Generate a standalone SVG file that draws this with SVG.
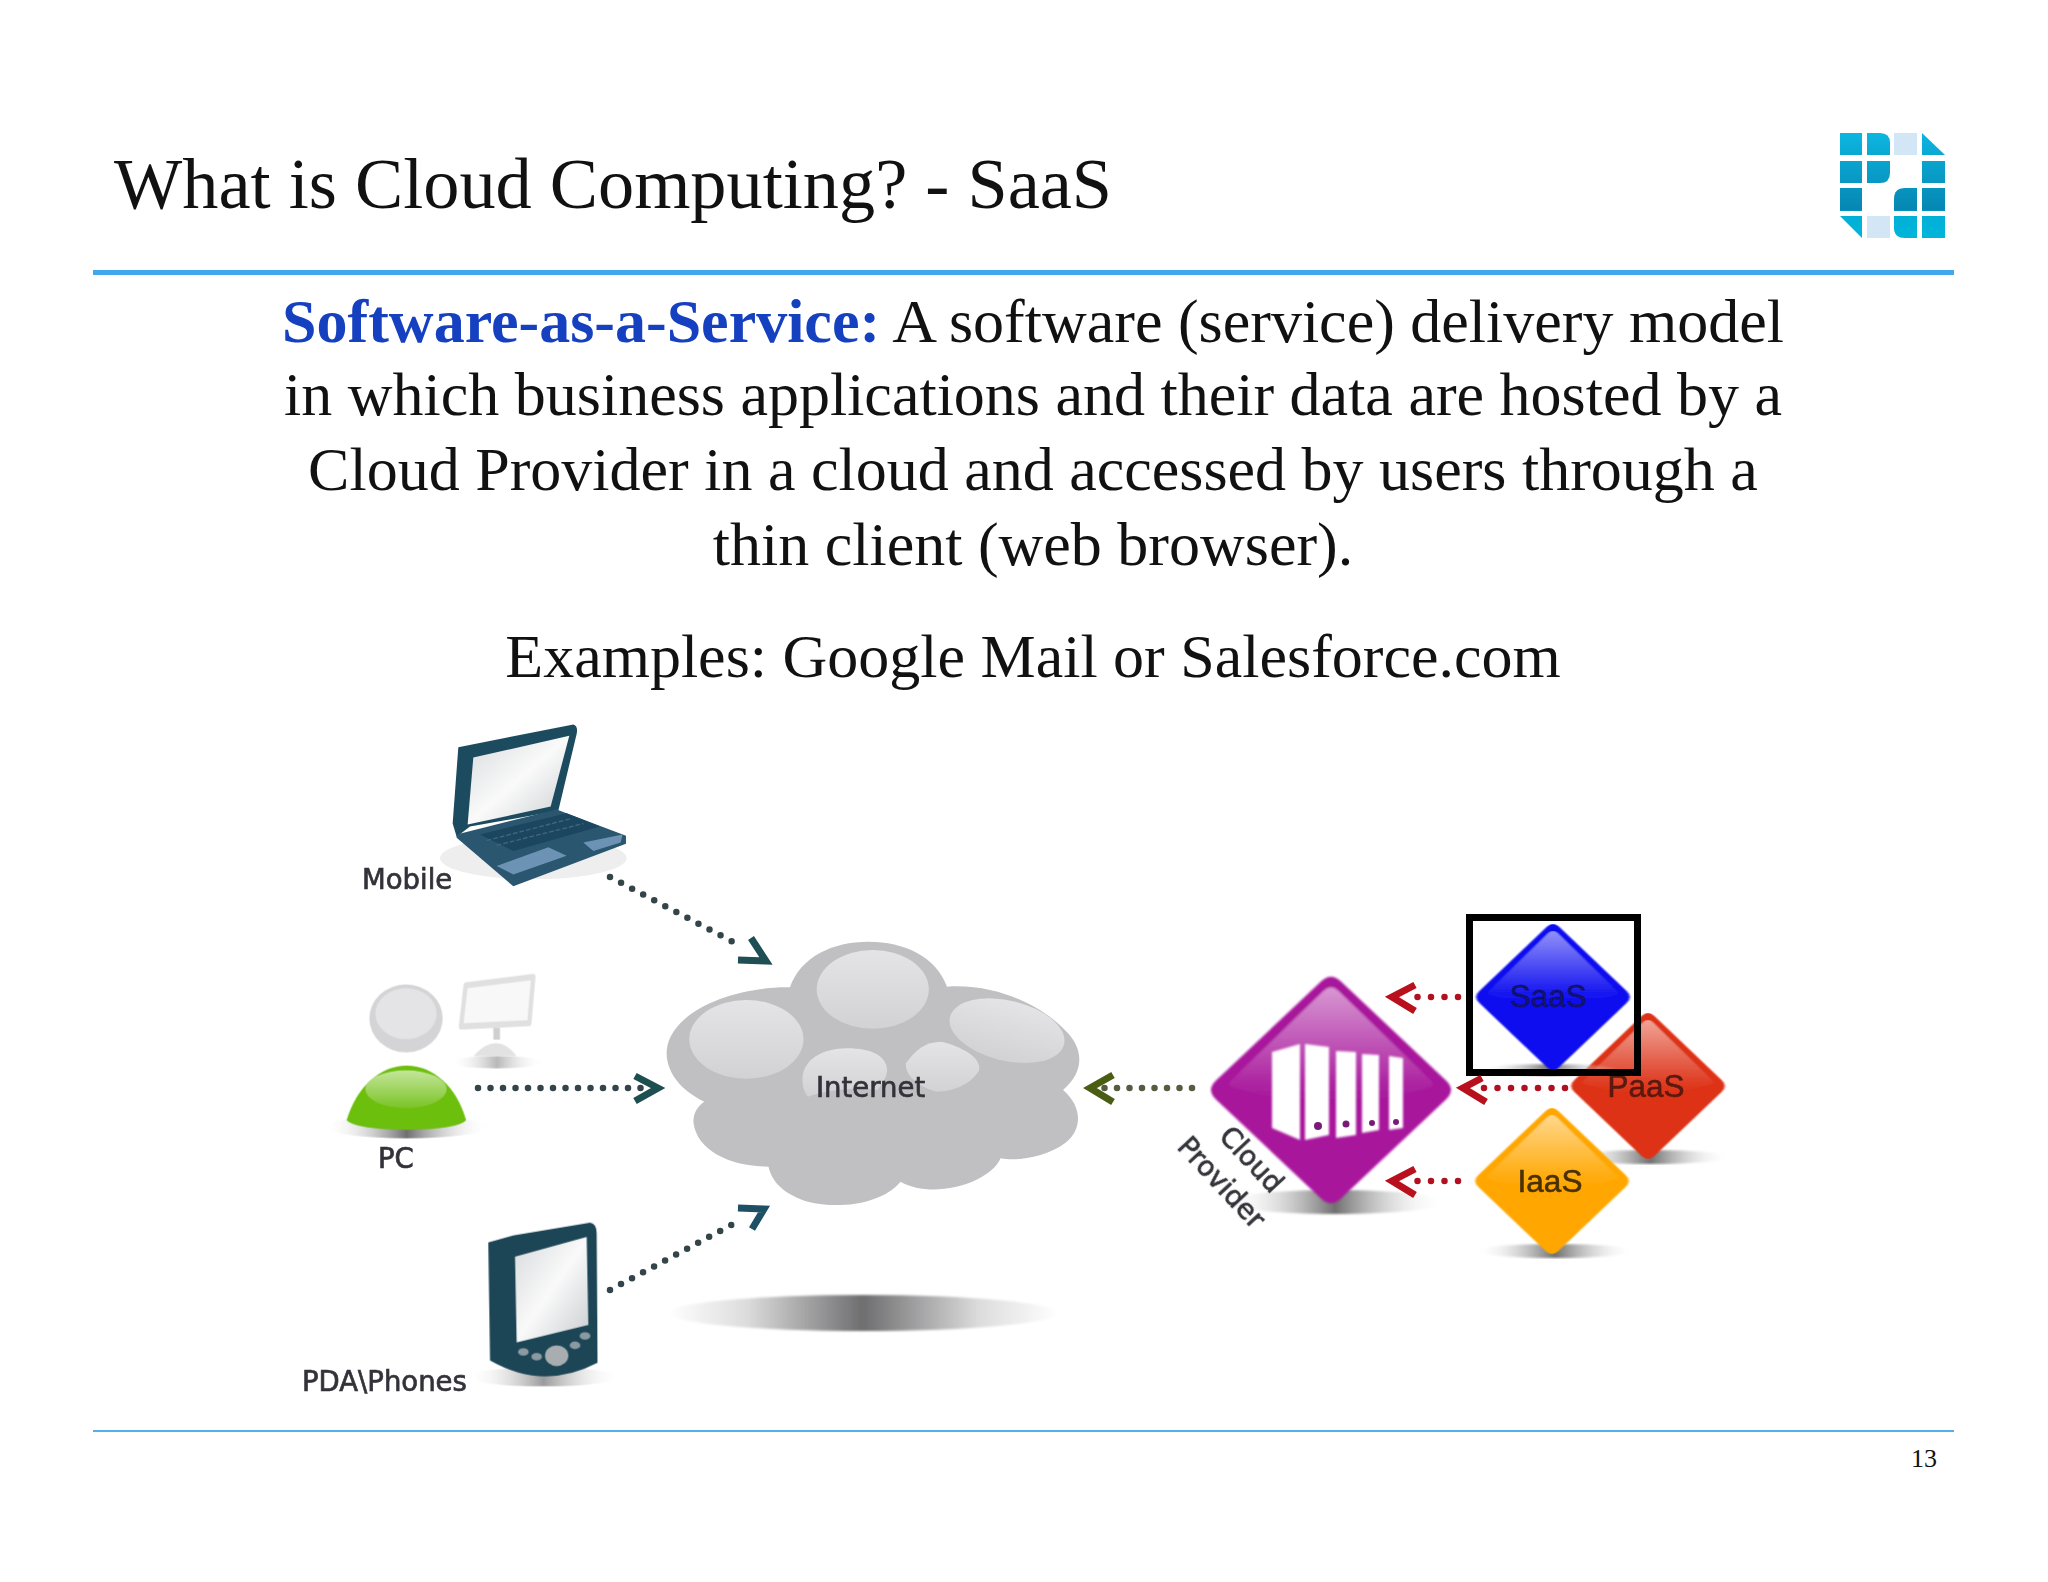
<svg xmlns="http://www.w3.org/2000/svg" width="2048" height="1582" viewBox="0 0 2048 1582">
<style>
.serif{font-family:"Liberation Serif","Times New Roman",serif;fill:#111}
.body{font-size:62px;text-anchor:middle}
.lab{font-family:"DejaVu Sans",Verdana,sans-serif;font-size:27.5px;fill:#33333a;stroke:#33333a;stroke-width:.7}
.dia{font-family:"Liberation Sans",Arial,sans-serif;font-size:31.5px;text-anchor:middle;stroke-width:.6}
.dots{fill:none;stroke:#33454a;stroke-width:6.5;stroke-linecap:round;stroke-dasharray:0 12.5}
.redd{fill:none;stroke:#b01020;stroke-width:6.500;stroke-linecap:round;stroke-dasharray:0 13.5}
.chev{fill:none;stroke-width:7;stroke-linejoin:miter}
</style>
<defs>
<linearGradient id="logoG" gradientUnits="userSpaceOnUse" x1="0" y1="133" x2="0" y2="238"><stop offset="0" stop-color="#0cb6e0"/><stop offset=".72" stop-color="#0687b3"/><stop offset=".8" stop-color="#00b0d8"/><stop offset="1" stop-color="#00b5da"/></linearGradient>
<linearGradient id="hl" x1="0" y1="0" x2="0" y2="1"><stop offset="0" stop-color="#fff" stop-opacity=".55"/><stop offset=".85" stop-color="#fff" stop-opacity=".05"/><stop offset="1" stop-color="#fff" stop-opacity="0"/></linearGradient>
<linearGradient id="shadowH" x1="0" y1="0" x2="1" y2="0"><stop offset="0" stop-color="#fff"/><stop offset=".2" stop-color="#ddd"/><stop offset=".5" stop-color="#6e6e70"/><stop offset=".8" stop-color="#ddd"/><stop offset="1" stop-color="#fff"/></linearGradient>
<linearGradient id="smallSh" x1="0" y1="0" x2="1" y2="0"><stop offset="0" stop-color="#fff" stop-opacity="0"/><stop offset=".5" stop-color="#707070"/><stop offset="1" stop-color="#fff" stop-opacity="0"/></linearGradient>
<linearGradient id="bubble" x1="0" y1="0" x2="0" y2="1"><stop offset="0" stop-color="#e4e4e6"/><stop offset="1" stop-color="#d2d2d4"/></linearGradient>
<linearGradient id="screenG" x1="0" y1="0" x2="1" y2="1"><stop offset="0" stop-color="#d8dadc"/><stop offset=".5" stop-color="#fafafa"/><stop offset="1" stop-color="#c9ccd0"/></linearGradient>
<linearGradient id="greenHl" x1="0" y1="0" x2="0" y2="1"><stop offset="0" stop-color="#c4e69a"/><stop offset="1" stop-color="#7cc428"/></linearGradient>
<path id="dOuter" d="M-8,-92 Q0,-100 8,-92 L92,-8 Q100,0 92,8 L8,92 Q0,100 -8,92 L-92,8 Q-100,0 -92,-8 Z"/>
<path id="dHigh" d="M-6,-84 Q0,-90 6,-84 L80,-8 Q84,-3 78,-2 Q0,22 -78,-2 Q-84,-3 -80,-8 Z" fill="url(#hl)"/>
<filter id="soft" x="-5%" y="-5%" width="110%" height="110%"><feGaussianBlur stdDeviation="1"/></filter>
<filter id="softText" x="-5%" y="-20%" width="110%" height="140%"><feGaussianBlur stdDeviation="0.5"/></filter>
</defs>

<g id="title"><text class="serif" x="114" y="208" font-size="72.300">What is Cloud Computing? - SaaS</text></g>
<g id="logo" fill="url(#logoG)">
<rect x="1840" y="133" width="22" height="22"/>
<path d="M1867,133H1880Q1890,133 1890,143V155H1867Z"/>
<rect x="1894" y="133" width="23" height="22" fill="#d3e6f5"/>
<path d="M1922,133L1945,155H1922Z"/>
<rect x="1840" y="161" width="22" height="22"/>
<path d="M1867,161H1890V173Q1890,183 1880,183H1867Z"/>
<rect x="1922" y="161" width="23" height="22"/>
<rect x="1840" y="188" width="22" height="23"/>
<path d="M1905,188H1917V211H1894V199Q1894,188 1905,188Z"/>
<rect x="1922" y="188" width="23" height="23"/>
<path d="M1840,216H1862V238Z"/>
<rect x="1867" y="216" width="23" height="22" fill="#d3e6f5"/>
<path d="M1894,216H1917V238H1905Q1894,238 1894,228Z"/>
<rect x="1922" y="216" width="23" height="22"/>
</g>
<g id="rules">
<rect x="93" y="270" width="1861" height="5" fill="#42a8ee"/>
<rect x="93" y="1430" width="1861" height="2" fill="#52b0ea"/>
</g>
<g id="body-text" class="serif">
<text class="serif body" x="1033" y="342"><tspan font-weight="bold" style="fill:#1540c0">Software-as-a-Service:</tspan> A software (service) delivery model</text>
<text class="serif body" x="1033" y="415">in which business applications and their data are hosted by a</text>
<text class="serif body" x="1033" y="490">Cloud Provider in a cloud and accessed by users through a</text>
<text class="serif body" x="1033" y="565">thin client (web browser).</text>
<text class="serif body" x="1033" y="677">Examples: Google Mail or Salesforce.com</text>
</g>
<g id="page-number"><text class="serif" x="1911" y="1467" font-size="26" fill="#333">13</text></g>

<g id="mobile">
<g filter="url(#soft)" transform="translate(300,700) scale(.3333,.4717)">
<ellipse cx="700" cy="335" rx="280" ry="45" fill="#eeeeee"/>
<path d="M475,100L820,52Q835,55 830,72L775,235L510,268L470,290L458,262Z" fill="#1f4c60"/>
<path d="M520,122L808,76L752,226L503,264Z" fill="url(#screenG)"/>
<path d="M470,285L770,232L978,288L978,305L640,395L470,292Z" fill="#2a5670"/>
<path d="M540,285L800,240L900,268L640,320Z" fill="#1d4560"/>
<path d="M560,298L810,252M590,308L850,262" stroke="#3d6680" stroke-width="3" stroke-dasharray="14 6" fill="none"/>
<path d="M590,352L745,312L800,330L640,370Z" fill="#6c93b4"/>
<path d="M850,302L968,285L962,302L880,320Z" fill="#6c93b4"/>
</g>
<text class="lab" x="362" y="889" filter="url(#softText)">Mobile</text>
</g>
<g id="pc">
<g filter="url(#soft)" transform="translate(300,700) scale(.3333,.4717)">
<ellipse cx="320" cy="905" rx="245" ry="24" fill="url(#smallSh)"/>
<ellipse cx="590" cy="768" rx="140" ry="13" fill="url(#smallSh)" opacity=".5"/>
<ellipse cx="318" cy="675" rx="110" ry="72" fill="#d4d4d6"/>
<ellipse cx="318" cy="665" rx="92" ry="54" fill="#e4e4e6"/>
<path d="M497,605L700,587L688,685L483,692Z" fill="#f8f8f8" stroke="#e0e0e0" stroke-width="13" stroke-linejoin="round"/>
<rect x="580" y="695" width="20" height="25" fill="#cfcfcf"/>
<path d="M520,755Q590,700 650,755Z" fill="#e2e2e2"/>
<path d="M140,890C170,820 240,775 320,775C400,775 470,820 498,890C480,918 160,918 140,890Z" fill="#6dbf10"/>
<ellipse cx="318" cy="825" rx="122" ry="40" fill="url(#greenHl)"/>
</g>
<text class="lab" x="378" y="1168" filter="url(#softText)">PC</text>
</g>
<g id="pda">
<g filter="url(#soft)" transform="translate(300,700) scale(.3333,.4717)">
<ellipse cx="730" cy="1435" rx="230" ry="20" fill="url(#smallSh)" opacity=".7"/>
<path d="M565,1150L640,1135L870,1108Q890,1110 890,1130L893,1405Q730,1465 570,1400Z" fill="#1c4556"/>
<path d="M645,1180L860,1138L865,1325L650,1362Z" fill="url(#screenG)"/>
<ellipse cx="770" cy="1390" rx="35" ry="22" fill="#a8aeb0"/>
<ellipse cx="710" cy="1392" rx="16" ry="8" fill="#8a9aa0"/>
<ellipse cx="670" cy="1382" rx="16" ry="8" fill="#8a9aa0"/>
<ellipse cx="825" cy="1368" rx="16" ry="8" fill="#8a9aa0"/>
<ellipse cx="855" cy="1348" rx="16" ry="8" fill="#8a9aa0"/>
</g>
<text class="lab" x="302" y="1391" filter="url(#softText)">PDA\Phones</text>
</g>
<g id="internet">
<ellipse cx="863" cy="1313" rx="195" ry="18" fill="url(#shadowH)" filter="url(#soft)"/>
<g filter="url(#soft)" transform="translate(640,900) scale(.357,.3333)">
<path d="M420,262C450,170 540,125 640,125C740,125 830,170 860,260C1000,250 1130,320 1190,390C1240,440 1250,510 1185,570C1240,620 1240,690 1190,730C1140,770 1060,785 1010,775C980,850 820,900 730,845C680,910 560,930 470,905C410,885 370,850 360,800C250,800 160,750 150,670C148,640 160,620 180,605C110,570 70,510 75,450C85,340 250,260 420,262Z" fill="#c0c0c3"/>
<ellipse cx="298" cy="418" rx="160" ry="118" fill="url(#bubble)"/>
<ellipse cx="652" cy="268" rx="157" ry="118" fill="url(#bubble)"/>
<ellipse cx="1028" cy="392" rx="165" ry="90" transform="rotate(15 1028 392)" fill="url(#bubble)"/>
<path d="M455,540C455,480 510,445 580,445C650,445 692,470 692,510C692,530 680,550 665,570C600,560 520,570 470,590Q455,570 455,540Z" fill="url(#bubble)"/>
<path d="M745,490C770,450 800,425 845,425C900,440 955,470 950,510C930,550 880,575 830,575C790,565 740,530 745,490Z" fill="url(#bubble)"/>
</g>
<text class="lab" x="816" y="1097" filter="url(#softText)">Internet</text>
</g>
<g id="cloud-provider">
<ellipse cx="1335" cy="1202" rx="110" ry="12" fill="url(#smallSh)" filter="url(#soft)"/>
<g transform="translate(1331,1090) scale(1.25,1.18)" filter="url(#soft)">
<use href="#dOuter" fill="#a8189c"/>
<use href="#dHigh"/>
</g>
<g fill="#fff" filter="url(#soft)">
<path d="M1272,1052L1300,1044V1140L1272,1128Z"/>
<path d="M1305,1044L1329,1047V1135L1305,1140Z"/>
<path d="M1336,1051L1356,1052V1135L1336,1138Z"/>
<path d="M1362,1054L1379,1055V1130L1362,1133Z"/>
<path d="M1389,1056L1403,1058V1128L1389,1130Z"/>
</g>
<g fill="#7a1a78"><circle cx="1318" cy="1126" r="4"/><circle cx="1346" cy="1124" r="3.500"/><circle cx="1372" cy="1123" r="3"/><circle cx="1396" cy="1122" r="3"/></g>
<text class="lab" x="1251" y="1169" text-anchor="middle" transform="rotate(47 1251 1160)" filter="url(#softText)">Cloud</text>
<text class="lab" x="1221" y="1192" text-anchor="middle" transform="rotate(47 1221 1183)" filter="url(#softText)">Provider</text>
</g>
<g id="paas">
<ellipse cx="1650" cy="1157" rx="80" ry="7" fill="url(#smallSh)" filter="url(#soft)"/>
<g transform="translate(1648,1086) scale(.8,.76)" filter="url(#soft)">
<use href="#dOuter" fill="#dd3318"/>
<use href="#dHigh"/>
</g>
<text class="dia" x="1646" y="1097" fill="#5a1a10" stroke="#5a1a10" filter="url(#softText)">PaaS</text>
</g>
<g id="saas">
<ellipse cx="1550" cy="1070" rx="70" ry="6" fill="url(#smallSh)" filter="url(#soft)"/>
<g transform="translate(1553,997) scale(.8,.76)" filter="url(#soft)">
<use href="#dOuter" fill="#0a0af0"/>
<use href="#dHigh"/>
</g>
<text class="dia" x="1548" y="1007" fill="#12126e" stroke="#12126e" filter="url(#softText)">SaaS</text>
</g>
<g id="iaas">
<ellipse cx="1555" cy="1251" rx="80" ry="7" fill="url(#smallSh)" filter="url(#soft)"/>
<g transform="translate(1552,1181) scale(.8,.76)" filter="url(#soft)">
<use href="#dOuter" fill="#ffa700"/>
<use href="#dHigh"/>
</g>
<text class="dia" x="1550" y="1192" fill="#4a3000" stroke="#4a3000" filter="url(#softText)">IaaS</text>
</g>
<g id="highlight-box"><rect x="1469.500" y="917.500" width="168" height="155" fill="none" stroke="#000" stroke-width="7"/></g>

<g id="connectors">
<path class="dots" d="M610,877L735,943"/>
<path class="chev" stroke="#1d4f55" d="M751,938L766,961L738,960"/>
<path class="dots" d="M478,1088L650,1088"/>
<path class="chev" stroke="#1d4f50" d="M635,1076L658,1088L635,1101"/>
<path class="dots" d="M610,1290L735,1223"/>
<path class="chev" stroke="#1d4f65" d="M738,1208L764,1209L752,1229"/>
<path class="dots" style="stroke:#555c40" d="M1192,1088L1100,1088"/>
<path class="chev" stroke="#4a5d12" d="M1113,1075L1090,1088L1113,1102"/>
<path class="redd" d="M1458,997L1405,997"/>
<path class="chev" stroke="#b8101c" d="M1415,985L1392,997L1415,1011"/>
<path class="redd" d="M1565,1088L1476,1088"/>
<path class="chev" stroke="#b8101c" d="M1482,1078L1463,1088L1486,1102"/>
<path class="redd" d="M1458,1181L1405,1181"/>
<path class="chev" stroke="#b8101c" d="M1415,1169L1392,1181L1415,1195"/>
</g>
</svg>
